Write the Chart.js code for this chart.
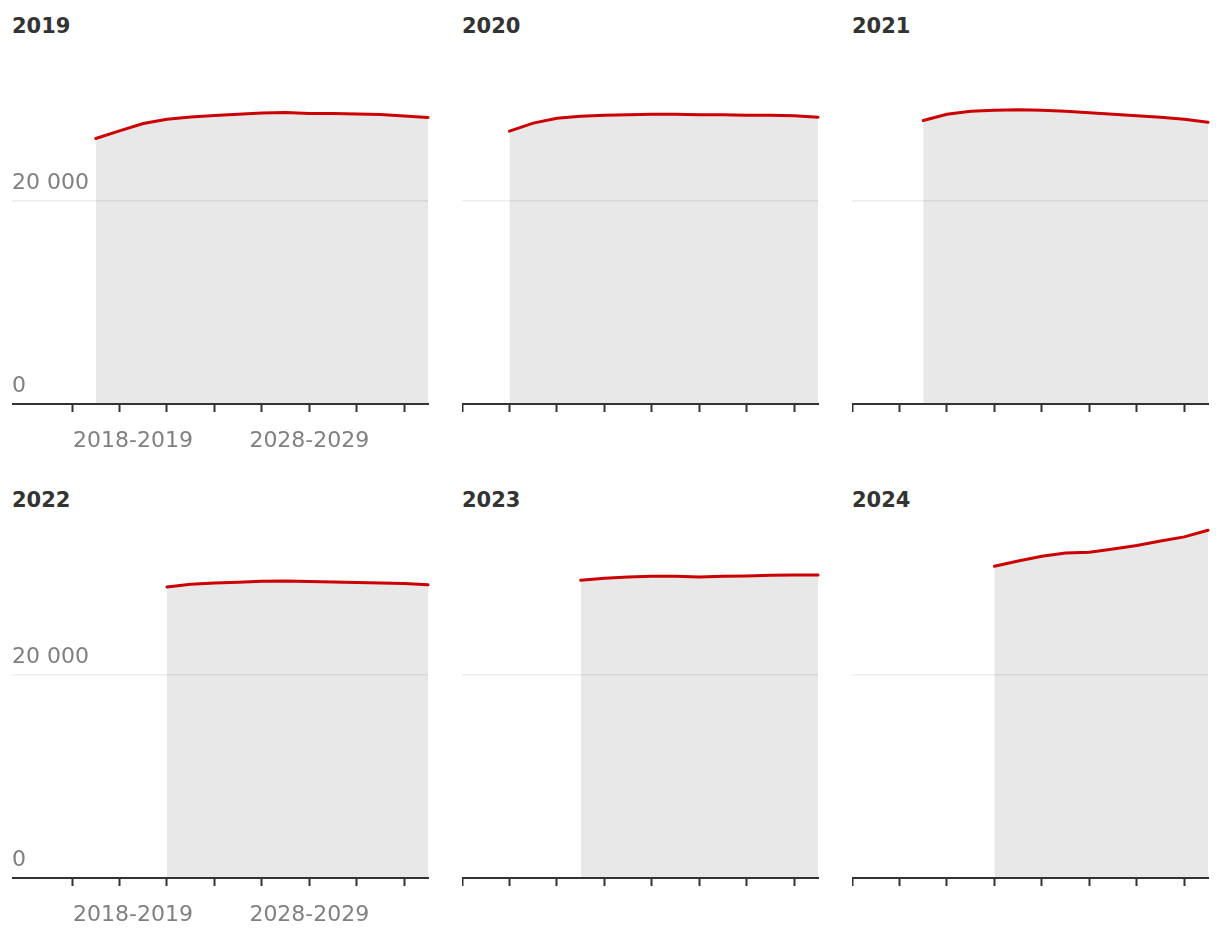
<!DOCTYPE html>
<html>
<head>
<meta charset="utf-8">
<script src="https://cdn.jsdelivr.net/npm/chart.js@4"></script>
<style>
  body { margin: 0; background: #fff; width: 1220px; height: 938px; position: relative; overflow: hidden; font-family: "DejaVu Sans", sans-serif; }
  .titel { position: absolute; font-weight: bold; font-size: 21px; line-height: 21px; color: #333; }
  canvas { position: absolute; }
</style>
</head>
<body>
<script>
// titres des panneaux et première année de chaque prévision
const panelTitles = ["2019", "2020", "2021", "2022", "2023", "2024"];
const startYears = [2019, 2020, 2021, 2022, 2023, 2024];

// effectifs prévus, une valeur par année scolaire jusqu'à 2033-2034
const values2019 = [26180, 26930, 27650, 28080, 28300, 28440, 28570, 28700, 28740, 28640, 28640, 28600, 28540, 28400, 28250];
const values2020 = [26900, 27690, 28180, 28370, 28470, 28520, 28570, 28570, 28520, 28520, 28470, 28470, 28420, 28280];
const values2021 = [27950, 28570, 28870, 28970, 29010, 28970, 28870, 28720, 28570, 28420, 28280, 28080, 27780];
const values2022 = [28700, 28970, 29090, 29160, 29260, 29290, 29230, 29190, 29130, 29090, 29030, 28900];
const values2023 = [29360, 29560, 29680, 29750, 29750, 29680, 29750, 29780, 29850, 29880, 29880];
const values2024 = [30740, 31260, 31720, 32050, 32120, 32440, 32780, 33230, 33630, 34290];
const allValues = [values2019, values2020, values2021, values2022, values2023, values2024];

// axes
const tickYears = [2018, 2020, 2022, 2024, 2026, 2028, 2030, 2032];
const yTicks = [0, 20000];
const xLabelYears = [2018, 2028];
const xLabels = ["2018-2019", "2028-2029"];

// mise en page (pixels)
const colLeft = [12, 462, 852];
const colRight = [428, 818, 1208];
const rowTop = [49, 523];
const rowBottom = [404, 878];
const titleTop = [16, 490];
const pad = { top: 16, right: 6, bottom: 52, left: 0 };
const pxPerYear = 23.73;

Chart.defaults.font.family = '"DejaVu Sans", sans-serif';

function formatNombre(v) {
  return String(v).replace(/\B(?=(\d{3})+(?!\d))/g, " ");
}

// étiquettes de l'axe x : la première alignée à gauche, les autres centrées
const xLabelPlugin = {
  id: "xLabels",
  afterDraw(chart, args, opts) {
    if (!opts.show) return;
    const { ctx, chartArea } = chart;
    const x = chart.scales.x;
    ctx.save();
    ctx.font = '22px "DejaVu Sans"';
    ctx.fillStyle = "#808080";
    ctx.textBaseline = "alphabetic";
    xLabelYears.forEach((annee, i) => {
      ctx.textAlign = i === 0 ? "left" : "center";
      ctx.fillText(xLabels[i], x.getPixelForValue(annee) + (i === 0 ? 1 : 0), chartArea.bottom + 43);
    });
    ctx.restore();
  }
};

panelTitles.forEach((titre, i) => {
  const col = i % 3;
  const row = Math.floor(i / 3);
  const L = colLeft[col], R = colRight[col], T = rowTop[row], B = rowBottom[row];

  const div = document.createElement("div");
  div.className = "titel";
  div.style.left = L + "px";
  div.style.top = titleTop[row] + "px";
  div.textContent = titre;
  document.body.appendChild(div);

  const canvas = document.createElement("canvas");
  const w = R - L + pad.left + pad.right;
  const h = (B - T) + pad.top + 8 + pad.bottom;
  canvas.width = w;
  canvas.height = h;
  canvas.style.width = w + "px";
  canvas.style.height = h + "px";
  canvas.style.left = (L - pad.left) + "px";
  canvas.style.top = (T - pad.top) + "px";
  document.body.appendChild(canvas);

  const points = allValues[i].map((v, k) => ({ x: startYears[i] + k, y: v }));

  new Chart(canvas, {
    type: "line",
    data: {
      datasets: [{
        data: points,
        borderColor: "#cc0000",
        borderWidth: 3,
        borderCapStyle: "round",
        backgroundColor: "#e8e8e8",
        fill: "origin",
        pointRadius: 0,
        tension: 0,
        clip: false
      }]
    },
    options: {
      responsive: false,
      animation: false,
      events: [],
      layout: { padding: pad },
      plugins: {
        legend: { display: false },
        tooltip: { enabled: false },
        xLabels: { show: col === 0 }
      },
      scales: {
        x: {
          type: "linear",
          min: col === 0 ? 2018 - 60 / pxPerYear : 2018,
          max: 2033,
          afterBuildTicks: s => { s.ticks = tickYears.map(v => ({ value: v })); },
          ticks: { display: false },
          grid: { z: 1, drawOnChartArea: false, drawTicks: true, tickLength: 8, tickColor: "#333", tickWidth: 2 },
          border: { z: 1, color: "#333", width: 2 }
        },
        y: {
          min: 0,
          max: 35000,
          afterBuildTicks: s => { s.ticks = yTicks.map(v => ({ value: v })); },
          ticks: {
            display: col === 0,
            mirror: true,
            padding: 0,
            labelOffset: -18,
            color: "#808080",
            font: { size: 22 },
            callback: v => formatNombre(v)
          },
          grid: {
            z: 1,
            drawTicks: false,
            lineWidth: 1.5,
            color: c => (c.tick && c.tick.value === 0) ? "rgba(0,0,0,0)" : "rgba(0,0,0,0.07)"
          },
          border: { display: false }
        }
      }
    },
    plugins: [xLabelPlugin]
  });
});
</script>
</body>
</html>
